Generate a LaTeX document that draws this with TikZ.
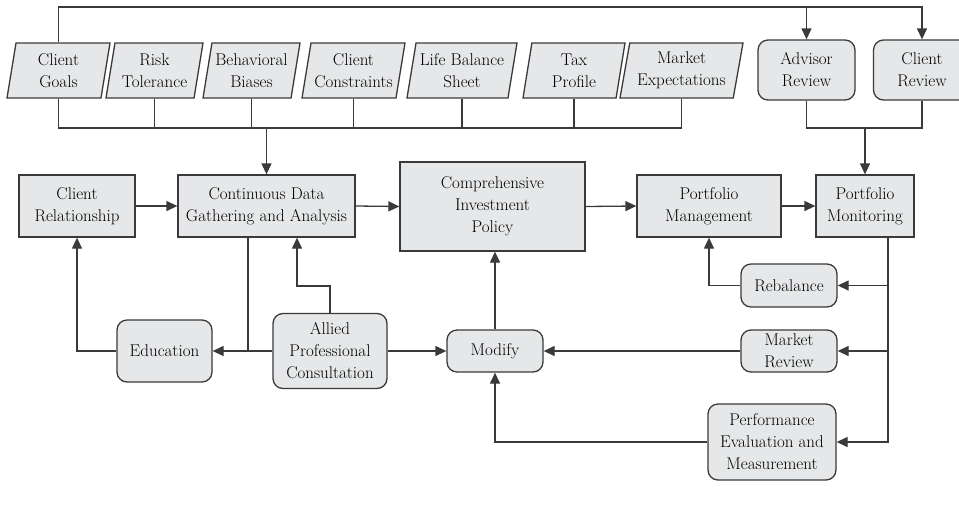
\documentclass[tikz,border=0pt]{standalone}
\usetikzlibrary{shapes.geometric,arrows.meta}
\definecolor{boxfill}{HTML}{E6E7E8}
\definecolor{linegray}{HTML}{3A3A3A}
\tikzset{
  infobox/.style={trapezium, trapezium left angle=76, trapezium right angle=104,
    trapezium stretches body, minimum height=55},
  stepbox/.style={rectangle, minimum height=62},
  actbox/.style={rectangle, rounded corners=10},
  link/.style={draw=linegray, line width=1.3pt},
  flow/.style={link, -{Triangle[length=11pt,width=10pt]}},
}
\begin{document}
\begin{tikzpicture}[x=1pt, y=-1pt, every node/.style={font=\fontsize{17}{22}\selectfont,
    align=center, draw=linegray, fill=boxfill, line width=1.3pt, inner sep=1pt}]
  \useasboundingbox (0,0) rectangle (959,507);
  % inputs
  \node [infobox, minimum width=103] (goals) at (58.5,70.5) {Client\\Goals};
  \node [infobox, minimum width=97] (risk) at (154.5,70.5) {Risk\\Tolerance};
  \node [infobox, minimum width=97] (biases) at (251.5,70.5) {Behavioral\\Biases};
  \node [infobox, minimum width=103] (constr) at (353.5,70.5) {Client\\Constraints};
  \node [infobox, minimum width=110] (life) at (462,70.5) {Life Balance\\Sheet};
  \node [infobox, minimum width=102] (tax) at (574,70.5) {Tax\\Profile};
  \node [infobox, minimum width=123] (expect) at (681.5,70.5) {Market\\Expectations};
  \node [actbox, minimum width=97, minimum height=60] (advisor) at (806.5,70) {Advisor\\Review};
  \node [actbox, minimum width=97, minimum height=60] (clientrev) at (922,70) {Client\\Review};
  % main process
  \node [stepbox, minimum width=116] (relation) at (77,206) {Client\\Relationship};
  \node [stepbox, minimum width=177] (gather) at (266.5,206) {Continuous Data\\Gathering and Analysis};
  \node [stepbox, minimum width=185, minimum height=89] (policy) at (492.5,206.5) {Comprehensive\\Investment\\Policy};
  \node [stepbox, minimum width=144] (manage) at (709,206) {Portfolio\\Management};
  \node [stepbox, minimum width=98] (monitor) at (865,206) {Portfolio\\Monitoring};
  % feedback
  \node [actbox, minimum width=95, minimum height=62] (education) at (164.5,351) {Education};
  \node [actbox, minimum width=114, minimum height=75] (allied) at (330,351) {Allied\\Professional\\Consultation};
  \node [actbox, minimum width=96, minimum height=42] (modify) at (495,351) {Modify};
  \node [actbox, minimum width=96, minimum height=43] (rebalance) at (789,285.5) {Rebalance};
  \node [actbox, minimum width=96, minimum height=42] (mreview) at (789,351) {Market\\Review};
  \node [actbox, minimum width=128, minimum height=76] (perf) at (772,442) {Performance\\Evaluation and\\Measurement};

  \coordinate (topbus) at (0,7);
  \coordinate (inbus) at (0,128);
  \draw [flow] (goals.north) |- (topbus -| clientrev.north) -- (clientrev.north);
  \draw [flow] (topbus -| advisor.north) -- (advisor.north);
  \draw [link] (goals.south) |- (inbus -| expect.south) -- (expect.south);
  \foreach \n in {risk,biases,constr,life,tax}
    \draw [link] (\n.south) -- (inbus -| \n.south);
  \draw [flow] (inbus -| gather.north) -- (gather.north);
  \draw [link] (advisor.south) |- (inbus -| clientrev.south) -- (clientrev.south);
  \draw [flow] (inbus -| monitor.north) -- (monitor.north);

  \draw [flow] (relation.east) -- (gather.west);
  \draw [flow] (gather.east) -- (policy.west);
  \draw [flow] (policy.east) -- (manage.west);
  \draw [flow] (manage.east) -- (monitor.west);

  \coordinate (edujoin) at ([xshift=-18.5]gather.south |- education.east);
  \draw [flow] (education.west) -| (relation.south);
  \draw [flow] (allied.west) -- (education.east);
  \draw [link] ([xshift=-18.5]gather.south) -- (edujoin);
  \draw [flow] (allied.north) -- ++(0,-27) -| ([xshift=30.5]gather.south);
  \draw [flow] (allied.east) -- (modify.west);
  \draw [flow] (modify.north) -- (modify.north |- policy.south);

  \coordinate (mline) at ([xshift=23]monitor.south);
  \draw [flow] (mline) |- (perf.east);
  \draw [flow] (mline |- rebalance.east) -- (rebalance.east);
  \draw [flow] (mline |- mreview.east) -- (mreview.east);
  \draw [flow] (rebalance.west) -| (manage.south);
  \draw [flow] (mreview.west) -- (modify.east);
  \draw [flow] (perf.west) -| (modify.south);
\end{tikzpicture}
\end{document}
